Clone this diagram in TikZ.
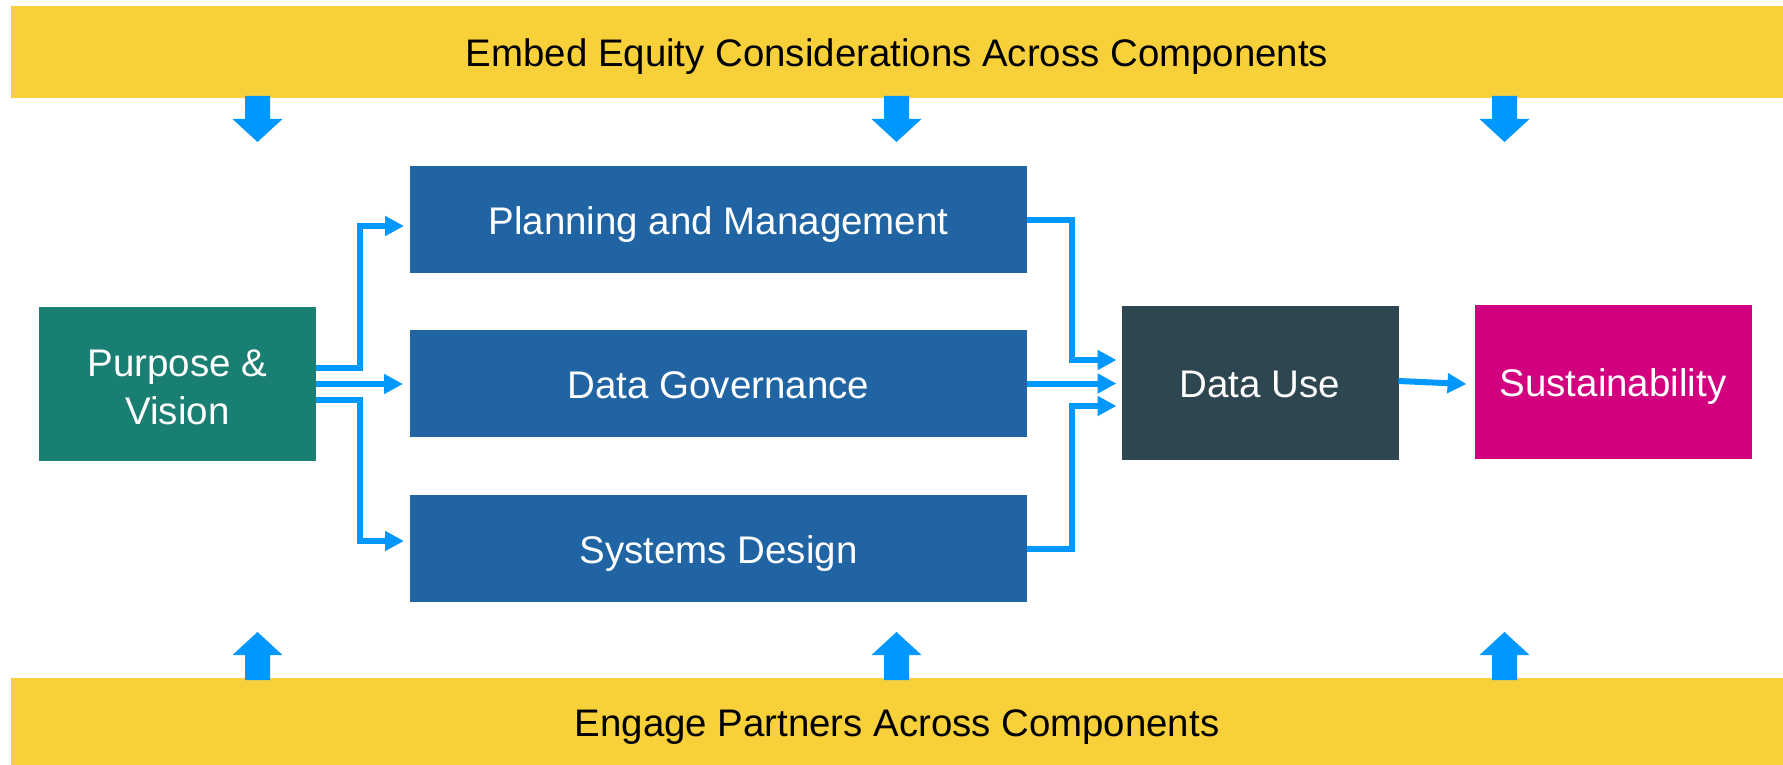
\documentclass[tikz,border=0pt]{standalone}
\usepackage{fontspec}
\setmainfont{Liberation Sans}
\usetikzlibrary{arrows.meta}
\definecolor{bannery}{HTML}{F8D13A}
\definecolor{arrowb}{HTML}{0098FF}
\definecolor{boxblue}{HTML}{2064A4}
\definecolor{pvteal}{HTML}{1A7F73}
\definecolor{duslate}{HTML}{2D4650}
\definecolor{sumag}{HTML}{D2007F}
\tikzset{
  box/.style={inner sep=0pt, outer sep=0pt, align=center, text=white,
    font=\fontsize{38.5}{48}\selectfont, text height=29pt, text depth=0pt},
  bigbox/.style={box, minimum width=277pt, minimum height=154pt},
  midbox/.style={box, minimum width=617pt, minimum height=107pt, fill=boxblue},
  banner/.style={inner sep=0pt, outer sep=0pt, fill=bannery, text=black,
    font=\fontsize{38.4}{44}\selectfont, text height=30pt, text depth=0pt},
  conn/.style={draw=arrowb, line width=6pt, -{Triangle[length=19pt,width=19pt]}},
  blockarrow/.style={fill=arrowb}
}
\begin{document}
\begin{tikzpicture}[x=1pt,y=-1pt]
\useasboundingbox (0,0) rectangle (1783,765);
% banners
\node[banner, minimum width=1772pt, minimum height=92pt] (top) at (897,52) {Embed Equity Considerations Across Components};
\node[banner, minimum width=1772pt, minimum height=87pt] (bot) at (897,721.5) {Engage Partners Across Components};
% block arrows
\foreach \c in {257.5,896.5,1504.5}{
  \fill[blockarrow] (\c-12.5,96) -- (\c+12.5,96) -- (\c+12.5,119) -- (\c+25,119) -- (\c,142) -- (\c-25,119) -- (\c-12.5,119) -- cycle;
  \fill[blockarrow] (\c-12.5,680) -- (\c+12.5,680) -- (\c+12.5,655) -- (\c+25,655) -- (\c,632) -- (\c-25,655) -- (\c-12.5,655) -- cycle;
}
% boxes
\node[bigbox, fill=pvteal, text height=80pt] (pv) at (177.5,384) {Purpose \&\\Vision};
\node[midbox] (pm) at (718.5,219.5) {Planning and Management};
\node[midbox] (dg) at (718.5,383.5) {Data Governance};
\node[midbox] (sd) at (718.5,548.5) {Systems Design};
\node[bigbox, fill=duslate] (du) at (1260,382.5) {Data Use};
\node[bigbox, fill=sumag] (su) at (1613,382) {Sustainability};
% connectors
\draw[conn] ([yshift=16pt]pv.east) -- ++(44,0) |- ([xshift=-6pt,yshift=-6.5pt]pm.west);
\draw[conn] (pv.east) -- ([xshift=-7pt]dg.west |- pv.east);
\draw[conn] ([yshift=-16pt]pv.east) -- ++(44,0) |- ([xshift=-6pt,yshift=7.5pt]sd.west);
\draw[conn] (pm.east) -- ++(45,0) |- ([xshift=-5pt,yshift=22.5pt]du.west);
\draw[conn] (dg.east) -- ([xshift=-5pt]du.west |- dg.east);
\draw[conn] (sd.east) -- ++(45,0) |- ([xshift=-5pt,yshift=-23.5pt]du.west);
\draw[conn] ([yshift=1.5pt]du.east) -- ([xshift=-8pt,yshift=-2pt]su.west);
\end{tikzpicture}
\end{document}
